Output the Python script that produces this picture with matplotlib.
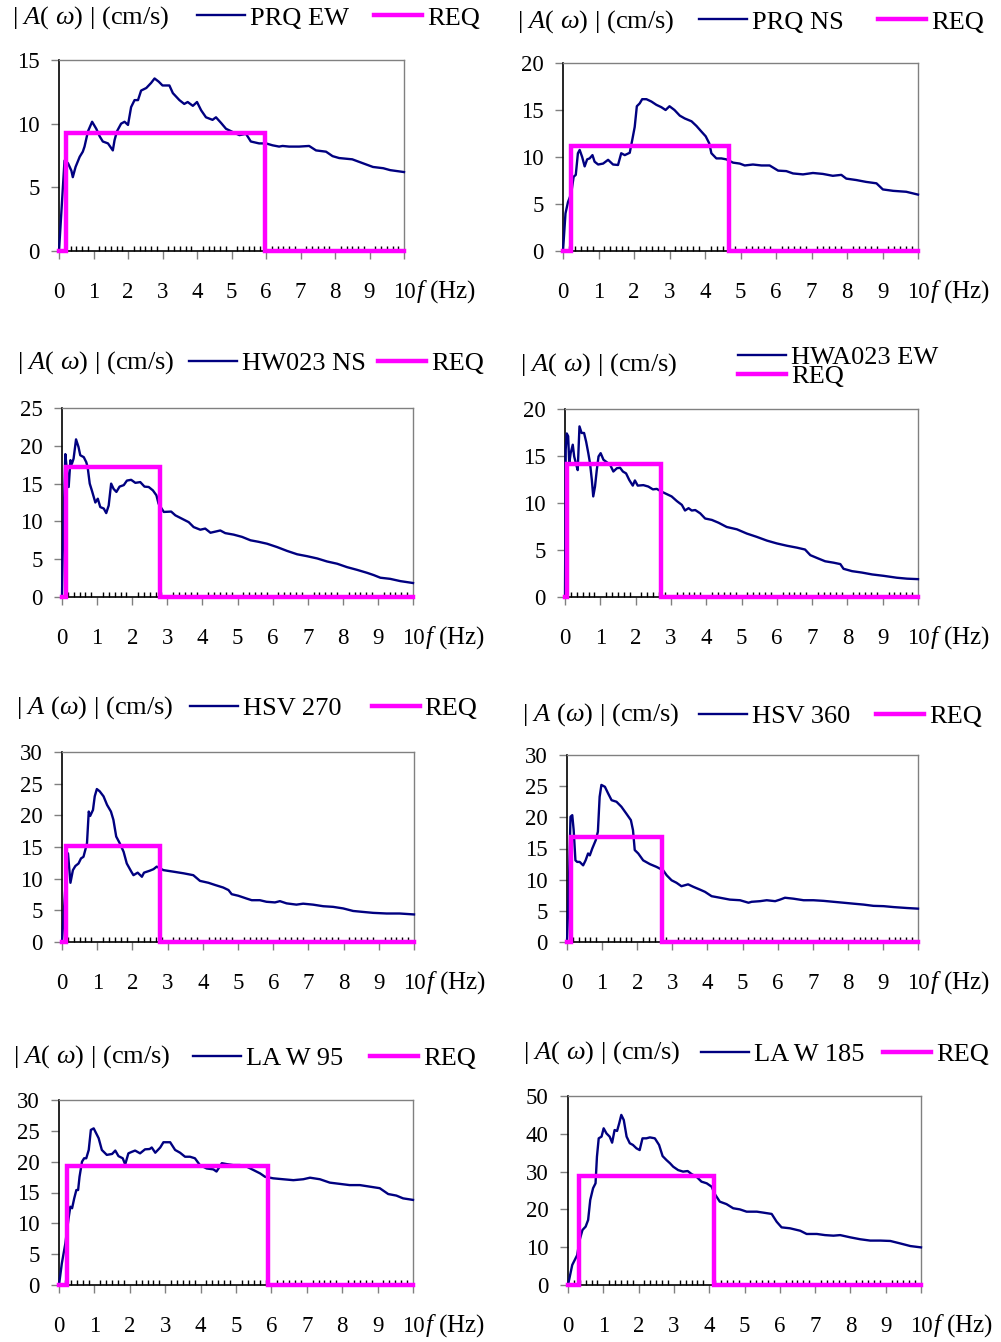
import numpy as np
import matplotlib.pyplot as plt
from matplotlib.ticker import MultipleLocator

plt.rcParams['font.family'] = 'Liberation Serif'
plt.rcParams['mathtext.fontset'] = 'custom'
plt.rcParams['mathtext.rm'] = 'Liberation Serif'
plt.rcParams['mathtext.it'] = 'Liberation Serif:italic'

# ---- data ----
names = ['PRQ EW', 'PRQ NS', 'HW023 NS', 'HWA023 EW',
         'HSV 270', 'HSV 360', 'LA W 95', 'LA W 185']
ymax = [15, 20, 25, 20, 30, 30, 30, 50]
ystep = [5, 5, 5, 5, 5, 5, 5, 10]

# REQ rectangle: start freq, end freq, level
req_f1 = [0.21, 0.22, 0.12, 0.05, 0.10, 0.12, 0.23, 0.31]
req_f2 = [5.97, 4.67, 2.80, 2.71, 2.79, 2.71, 5.89, 4.14]
req_lv = [9.3, 11.17, 17.2, 14.1, 15.2, 16.9, 19.35, 28.9]

f1 = [0, 0.16, 0.26, 0.36, 0.4, 0.48, 0.6, 0.69, 0.74, 0.84, 0.96, 1.08, 1.18, 1.27, 1.42, 1.56, 1.61, 1.68, 1.8, 1.9,
      2.0, 2.09, 2.19, 2.29, 2.38, 2.53, 2.67, 2.77, 2.89, 3.0, 3.2, 3.3, 3.49, 3.63, 3.73, 3.88, 4.0, 4.12, 4.26, 4.45,
      4.55, 4.7, 4.84, 5.03, 5.23, 5.42, 5.56, 5.8, 6.0, 6.19, 6.38, 6.48, 6.67, 6.96, 7.25, 7.45, 7.74, 7.93, 8.12, 8.5,
      8.8, 9.1, 9.4, 9.6, 10.0]
a1 = [0, 7.1, 6.9, 6.3, 5.8, 6.6, 7.4, 7.8, 8.2, 9.4, 10.15, 9.6, 9.0, 8.6, 8.45, 7.9, 8.7, 9.4, 10.0, 10.15,
      9.9, 11.3, 11.85, 11.85, 12.6, 12.8, 13.2, 13.55, 13.3, 13.0, 13.0, 12.4, 11.85, 11.55, 11.7, 11.4, 11.7, 11.05, 10.5, 10.3,
      10.5, 10.05, 9.6, 9.35, 9.1, 9.2, 8.6, 8.45, 8.45, 8.3, 8.2, 8.25, 8.2, 8.2, 8.25, 7.9, 7.8, 7.45, 7.3, 7.2,
      6.9, 6.6, 6.5, 6.35, 6.2]

f2 = [0, 0.07, 0.14, 0.23, 0.3, 0.36, 0.42, 0.47, 0.54, 0.61, 0.68, 0.75, 0.83, 0.89, 0.99, 1.13, 1.27, 1.41, 1.55, 1.64,
      1.74, 1.88, 1.95, 2.02, 2.08, 2.16, 2.23, 2.35, 2.49, 2.63, 2.77, 2.89, 3.0, 3.14, 3.29, 3.43, 3.62, 3.76, 3.9, 4.02,
      4.12, 4.18, 4.32, 4.46, 4.6, 4.79, 4.98, 5.12, 5.35, 5.59, 5.82, 6.06, 6.29, 6.48, 6.76, 7.04, 7.32, 7.6, 7.84, 7.98,
      8.26, 8.54, 8.83, 9.01, 9.3, 9.67, 10.0]
a2 = [0, 4.0, 5.2, 6.1, 7.9, 8.1, 10.4, 10.75, 10.0, 9.0, 9.75, 9.85, 10.2, 9.5, 9.2, 9.3, 9.7, 9.2, 9.15, 10.4,
      10.2, 10.45, 11.8, 13.2, 15.4, 15.7, 16.15, 16.15, 15.9, 15.55, 15.3, 15.0, 15.4, 15.0, 14.4, 14.1, 13.8, 13.3, 12.7, 12.2,
      11.45, 10.4, 9.85, 9.85, 9.75, 9.4, 9.3, 9.1, 9.2, 9.1, 9.1, 8.55, 8.5, 8.25, 8.15, 8.3, 8.2, 8.0, 8.1, 7.7,
      7.55, 7.35, 7.2, 6.55, 6.4, 6.3, 6.0]

f3 = [0, 0.02, 0.095, 0.14, 0.19, 0.24, 0.28, 0.33, 0.4, 0.47, 0.52, 0.62, 0.69, 0.73, 0.79, 0.85, 0.95, 1.02, 1.09, 1.19,
      1.26, 1.33, 1.4, 1.47, 1.55, 1.64, 1.76, 1.85, 1.97, 2.09, 2.23, 2.35, 2.47, 2.59, 2.69, 2.75, 2.9, 3.11, 3.23, 3.42,
      3.61, 3.75, 3.94, 4.08, 4.23, 4.51, 4.65, 4.89, 5.13, 5.37, 5.6, 5.84, 6.13, 6.41, 6.7, 6.98, 7.27, 7.55, 7.84, 8.12,
      8.4, 8.69, 8.88, 9.07, 9.35, 9.64, 10.0]
a3 = [0, 5.7, 18.9, 16.75, 14.55, 18.1, 17.6, 18.3, 20.85, 19.85, 18.75, 18.5, 17.85, 17.2, 15.0, 14.1, 12.5, 13.0, 11.9, 11.7,
      11.1, 12.1, 15.0, 14.3, 13.9, 14.6, 14.8, 15.4, 15.5, 15.1, 15.2, 14.6, 14.55, 14.1, 13.45, 12.35, 11.25, 11.3, 10.8, 10.35,
      9.9, 9.25, 8.9, 9.05, 8.5, 8.8, 8.45, 8.25, 7.95, 7.5, 7.3, 7.05, 6.6, 6.1, 5.65, 5.4, 5.1, 4.7, 4.4, 3.95,
      3.6, 3.2, 2.9, 2.55, 2.4, 2.1, 1.85]

f4 = [0, 0.02, 0.05, 0.09, 0.12, 0.16, 0.22, 0.26, 0.31, 0.36, 0.41, 0.47, 0.54, 0.6, 0.66, 0.71, 0.76, 0.8, 0.85, 0.9,
      0.95, 1.01, 1.09, 1.18, 1.28, 1.37, 1.47, 1.56, 1.64, 1.73, 1.82, 1.92, 1.98, 2.06, 2.22, 2.36, 2.49, 2.6, 2.74, 2.88,
      3.02, 3.17, 3.31, 3.4, 3.5, 3.59, 3.69, 3.83, 3.97, 4.16, 4.35, 4.58, 4.87, 5.15, 5.43, 5.72, 6.0, 6.29, 6.57, 6.8,
      6.95, 7.14, 7.37, 7.61, 7.8, 7.89, 8.13, 8.41, 8.7, 9.03, 9.4, 9.69, 10.0]
a4 = [0, 15.7, 17.4, 17.1, 14.2, 15.3, 16.2, 14.95, 14.2, 13.5, 18.15, 17.45, 17.45, 16.5, 15.3, 14.2, 12.45, 10.7, 11.75, 13.5,
      14.95, 15.3, 14.6, 14.35, 14.05, 13.35, 13.7, 13.75, 13.35, 13.15, 12.45, 11.85, 12.4, 11.85, 11.9, 11.75, 11.45, 11.5, 11.2, 10.95,
      10.7, 10.2, 9.8, 9.2, 9.45, 9.2, 9.25, 8.9, 8.35, 8.2, 7.9, 7.45, 7.2, 6.75, 6.4, 6.0, 5.7, 5.45, 5.25, 5.05,
      4.45, 4.15, 3.8, 3.65, 3.5, 3.0, 2.75, 2.6, 2.4, 2.25, 2.05, 1.95, 1.9]

f5 = [0, 0.09, 0.17, 0.24, 0.31, 0.38, 0.47, 0.54, 0.61, 0.66, 0.71, 0.76, 0.8, 0.88, 0.93, 0.99, 1.07, 1.18, 1.28, 1.39,
      1.46, 1.54, 1.64, 1.75, 1.84, 1.97, 2.03, 2.15, 2.27, 2.33, 2.49, 2.6, 2.69, 2.88, 3.17, 3.45, 3.73, 3.92, 4.16, 4.35,
      4.58, 4.73, 4.82, 5.01, 5.25, 5.39, 5.62, 5.81, 6.05, 6.19, 6.38, 6.66, 6.85, 7.13, 7.42, 7.7, 7.99, 8.27, 8.55, 8.84,
      9.22, 9.59, 10.0]
a5 = [0, 8.2, 14.0, 9.35, 11.35, 12.0, 12.4, 13.2, 13.45, 14.5, 15.6, 20.6, 19.9, 20.85, 23.0, 24.15, 23.8, 23.0, 21.65, 20.6,
      19.3, 16.65, 15.6, 14.25, 12.4, 11.1, 10.55, 10.95, 10.3, 10.95, 11.25, 11.5, 11.9, 11.35, 11.1, 10.85, 10.55, 9.65, 9.35, 9.0,
      8.6, 8.2, 7.55, 7.3, 6.85, 6.6, 6.6, 6.35, 6.25, 6.45, 6.1, 5.9, 6.05, 5.9, 5.65, 5.55, 5.3, 4.9, 4.75, 4.6,
      4.5, 4.5, 4.35]

f6 = [0, 0.05, 0.1, 0.15, 0.19, 0.24, 0.29, 0.36, 0.46, 0.53, 0.6, 0.65, 0.72, 0.82, 0.88, 0.93, 0.98, 1.08, 1.17, 1.27,
      1.41, 1.55, 1.69, 1.82, 1.88, 1.93, 2.03, 2.17, 2.36, 2.55, 2.74, 2.84, 2.98, 3.12, 3.26, 3.45, 3.6, 3.79, 3.93, 4.12,
      4.36, 4.64, 4.93, 5.17, 5.26, 5.5, 5.69, 5.93, 6.07, 6.21, 6.45, 6.74, 7.02, 7.31, 7.59, 7.88, 8.16, 8.45, 8.73, 9.02,
      9.31, 9.69, 10.0]
a6 = [0, 8.3, 20.1, 20.35, 17.95, 13.1, 12.85, 12.85, 12.3, 13.1, 14.2, 13.9, 15.0, 16.35, 17.7, 23.3, 25.2, 24.9, 23.85, 22.75,
      22.5, 21.7, 20.6, 19.55, 17.95, 14.75, 14.2, 13.1, 12.5, 12.05, 11.5, 10.7, 9.9, 9.5, 8.95, 9.25, 8.85, 8.4, 8.05, 7.35,
      7.1, 6.8, 6.7, 6.3, 6.45, 6.55, 6.7, 6.55, 6.8, 7.1, 6.95, 6.7, 6.7, 6.6, 6.45, 6.3, 6.15, 6.0, 5.8, 5.75,
      5.6, 5.45, 5.35]

f7 = [0, 0.08, 0.18, 0.27, 0.32, 0.37, 0.43, 0.49, 0.54, 0.58, 0.65, 0.71, 0.77, 0.84, 0.9, 0.98, 1.05, 1.12, 1.21, 1.35,
      1.5, 1.59, 1.68, 1.8, 1.87, 1.96, 2.06, 2.15, 2.29, 2.43, 2.56, 2.62, 2.72, 2.86, 2.95, 3.14, 3.28, 3.42, 3.56, 3.7,
      3.84, 3.98, 4.17, 4.36, 4.45, 4.6, 4.74, 4.92, 5.11, 5.3, 5.49, 5.68, 5.82, 6.05, 6.33, 6.62, 6.9, 7.09, 7.37, 7.65,
      7.93, 8.21, 8.5, 8.78, 9.06, 9.3, 9.53, 9.72, 10.0]
a7 = [0, 3.5, 6.75, 10.8, 12.7, 12.45, 14.05, 15.4, 15.4, 17.55, 20.0, 20.55, 20.55, 21.9, 25.15, 25.4, 24.6, 23.8, 21.9, 21.1,
      21.25, 21.8, 20.9, 20.55, 19.55, 21.35, 21.6, 21.8, 21.35, 22.0, 22.05, 22.3, 21.45, 22.3, 23.15, 23.15, 21.9, 21.45, 20.8, 20.8,
      20.55, 19.45, 18.9, 18.75, 18.4, 19.75, 19.6, 19.45, 19.45, 19.2, 18.65, 18.1, 17.55, 17.3, 17.15, 17.0, 17.15, 17.4, 17.15, 16.6,
      16.4, 16.2, 16.2, 15.95, 15.7, 14.75, 14.5, 14.05, 13.8]

f8 = [0, 0.05, 0.12, 0.19, 0.26, 0.33, 0.41, 0.5, 0.57, 0.63, 0.71, 0.78, 0.82, 0.87, 0.95, 1.01, 1.09, 1.18, 1.25, 1.32,
      1.39, 1.45, 1.51, 1.58, 1.66, 1.75, 1.84, 1.94, 2.03, 2.11, 2.22, 2.32, 2.46, 2.58, 2.68, 2.79, 2.89, 2.98, 3.12, 3.26,
      3.39, 3.5, 3.64, 3.78, 3.93, 4.07, 4.16, 4.3, 4.49, 4.68, 4.87, 5.06, 5.35, 5.53, 5.77, 5.91, 6.05, 6.29, 6.58, 6.76,
      7.05, 7.28, 7.52, 7.71, 8.0, 8.28, 8.56, 8.85, 9.13, 9.41, 9.7, 10.0]
a8 = [0, 2.2, 5.3, 6.6, 7.9, 11.9, 14.55, 15.45, 17.2, 22.5, 25.6, 26.9, 33.95, 38.8, 39.25, 41.45, 40.1, 39.25, 37.65, 41.0,
      40.75, 42.75, 45.0, 43.65, 39.25, 37.5, 37.05, 36.15, 35.7, 38.8, 38.8, 39.05, 38.8, 37.05, 34.1, 33.05, 32.2, 31.3, 30.4, 30.0,
      30.15, 29.35, 28.65, 27.35, 26.9, 26.0, 24.05, 22.05, 21.4, 20.3, 20.0, 19.4, 19.4, 19.15, 18.8, 16.75, 15.25, 15.0, 14.35, 13.5,
      13.5, 13.2, 13.05, 13.2, 12.6, 12.1, 11.75, 11.75, 11.65, 11.0, 10.3, 9.95]

freqs = [f1, f2, f3, f4, f5, f6, f7, f8]
amps = [a1, a2, a3, a4, a5, a6, a7, a8]

# ---- layout (pixels in the 1001x1342 canvas) ----
W, H = 1001, 1342
# axes box: left, right, top, bottom
boxes = [(59, 404, 60, 251), (563, 918, 63, 251),
         (62, 413, 408, 597), (565, 918, 409, 597),
         (62, 414, 752, 942), (567, 918, 755, 942),
         (59, 413, 1100, 1285), (568, 921, 1096, 1285)]
title_xy = [(12, 18), (517, 22), (17, 363), (520, 365),
            (16, 708), (522, 715), (13, 1057), (523, 1053)]
leg_xy = [(197, 18), (699, 22), (189, 363), (738, 367),
          (190, 708), (699, 716), (193, 1058), (701, 1054)]
leg_gap = [25, 34, 12, 0, 30, 26, 27, 19]
leg_cols = [2, 2, 2, 1, 2, 2, 2, 2]

title_a = r'| $A$( $\omega$) | (cm/s)'
title_b = r'| $A$ ($\omega$) | (cm/s)'

fig = plt.figure(figsize=(W / 100, H / 100), dpi=100)
LEGFS = 19
em = LEGFS * 100 / 72.0

for i in range(8):
    l, r, t, b = boxes[i]
    ax = fig.add_axes([l / W, 1 - b / H, (r - l) / W, (b - t) / H])

    ln1, = ax.plot(freqs[i], amps[i], color='#000080', lw=1.7, clip_on=False, zorder=3)
    rx = [0, req_f1[i], req_f1[i], req_f2[i], req_f2[i], 10]
    ry = [0, 0, req_lv[i], req_lv[i], 0, 0]
    ln2, = ax.plot(rx, ry, color='#FF00FF', lw=3.2, clip_on=False, zorder=4,
                   solid_joinstyle='miter')

    ax.set_xlim(0, 10)
    ax.set_ylim(0, ymax[i])
    ax.xaxis.set_major_locator(MultipleLocator(1))
    ax.xaxis.set_minor_locator(MultipleLocator(1 / 6))
    ax.yaxis.set_major_locator(MultipleLocator(ystep[i]))

    for s in ['left', 'bottom']:
        ax.spines[s].set_color('black')
        ax.spines[s].set_linewidth(1.2)
    for s in ['top', 'right']:
        ax.spines[s].set_color('#808080')
        ax.spines[s].set_linewidth(1.0)

    ax.tick_params(axis='x', which='major', direction='out', length=6, width=1,
                   color='#808080', pad=16, labelsize=16.5)
    ax.tick_params(axis='x', which='minor', direction='in', length=3.5, width=1,
                   color='black')
    ax.tick_params(axis='y', which='major', direction='out', length=6, width=1,
                   color='#808080', pad=8, labelsize=16.5)

    ax.annotate('$f$ (Hz)', xy=(1, 0), xycoords='axes fraction',
                xytext=(8.5, -29.5), textcoords='offset points',
                ha='left', va='center', fontsize=18)

    tx, ty = title_xy[i]
    fig.text(tx / W, 1 - ty / H, title_b if i in (4, 5) else title_a,
             fontsize=LEGFS, ha='left', va='center')

    lx, ly = leg_xy[i]
    fig.legend([ln1, ln2], [names[i], 'REQ'], loc='center left',
               bbox_to_anchor=(lx / W, 1 - ly / H), bbox_transform=fig.transFigure,
               ncol=leg_cols[i], frameon=False, fontsize=LEGFS,
               borderpad=0, borderaxespad=0, handlelength=48 / em,
               handletextpad=5 / em, columnspacing=leg_gap[i] / em,
               labelspacing=-0.15)

fig.savefig('out.png', dpi=100)
